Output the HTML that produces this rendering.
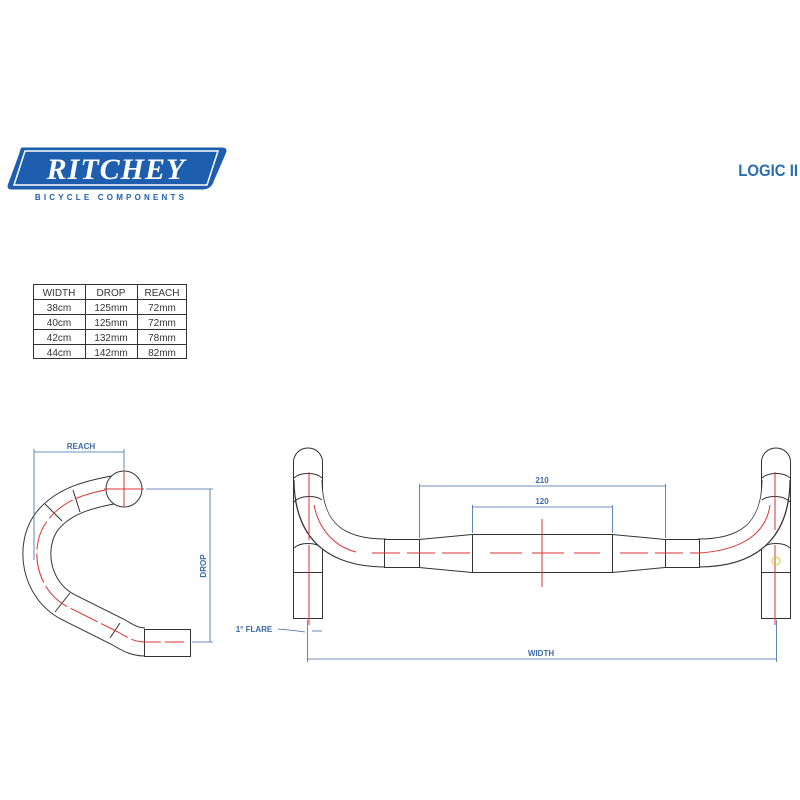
<!DOCTYPE html>
<html><head><meta charset="utf-8"><style>
html,body{margin:0;padding:0;background:#fff;}
svg{display:block;font-family:"Liberation Sans",sans-serif;}
</style></head><body>
<svg width="800" height="800" viewBox="0 0 800 800" xmlns="http://www.w3.org/2000/svg">
<!-- Logo -->
<path d="M22,148 L222,148 Q228,148 225,154 L212,184 Q209,189 203,189 L12,189 Q6,189 9,183 L20,153 Q21,148 22,148 Z" fill="#1d5fae" stroke="#1d5fae"/>
<path d="M25,151 L218,151 L207,185 L14,185 Z" fill="none" stroke="#fff" stroke-width="1.5"/>
<text x="116" y="179" text-anchor="middle" font-family="Liberation Serif,serif" font-style="italic" font-weight="bold" font-size="30" fill="#fff" letter-spacing="1">RITCHEY</text>
<text x="111" y="200" text-anchor="middle" font-weight="bold" font-size="8" fill="#1d5fae" letter-spacing="3.2">BICYCLE COMPONENTS</text>
<text x="798" y="176" text-anchor="end" font-weight="bold" font-size="17" fill="#2a6db0" transform="scale(0.88,1)" style="transform-origin:798px 176px">LOGIC II</text>

<!-- Table -->
<g stroke="#333" stroke-width="1" fill="none">
<rect x="33.5" y="284.5" width="153" height="74"/>
<line x1="33" y1="299.5" x2="187" y2="299.5"/>
<line x1="33" y1="314.5" x2="187" y2="314.5"/>
<line x1="33" y1="329.5" x2="187" y2="329.5"/>
<line x1="33" y1="344.5" x2="187" y2="344.5"/>
<line x1="85.5" y1="284" x2="85.5" y2="359"/>
<line x1="137.5" y1="284" x2="137.5" y2="359"/>
</g>
<g font-size="10" fill="#333" text-anchor="middle">
<text x="59" y="296">WIDTH</text><text x="111" y="296">DROP</text><text x="162" y="296">REACH</text>
<text x="59" y="311">38cm</text><text x="111" y="311">125mm</text><text x="162" y="311">72mm</text>
<text x="59" y="326">40cm</text><text x="111" y="326">125mm</text><text x="162" y="326">72mm</text>
<text x="59" y="341">42cm</text><text x="111" y="341">132mm</text><text x="162" y="341">78mm</text>
<text x="59" y="356">44cm</text><text x="111" y="356">142mm</text><text x="162" y="356">82mm</text>
</g>

<!-- Side view -->
<path d="M118,489 C90,494 65,500 48,520 C28,545 35,590 68,607 L118,632 C128,638 135,642 145,642" fill="none" stroke="#333" stroke-width="29"/>
<path d="M118,489 C90,494 65,500 48,520 C28,545 35,590 68,607 L118,632 C128,638 135,642 145,642" fill="none" stroke="#fff" stroke-width="27"/>
<circle cx="124" cy="489" r="18" fill="#fff" stroke="#333" stroke-width="1"/>
<rect x="144.5" y="629.5" width="46" height="27" fill="#fff" stroke="#333"/>
<g stroke="#333" stroke-width="1">
<line x1="73" y1="490" x2="80" y2="512"/><line x1="45" y1="504" x2="62" y2="521"/>
<line x1="55" y1="612" x2="70" y2="593"/><line x1="110" y1="638" x2="120" y2="623"/>
</g>
<path d="M105,490 C80,495 62,502 48,520 C28,545 35,590 68,607 L118,632 C128,638 135,642 145,642 L184,642" fill="none" stroke="#d33" stroke-width="1" stroke-dasharray="30,4"/>
<line x1="104" y1="489" x2="144" y2="489" stroke="#d33"/><line x1="124" y1="471" x2="124" y2="507" stroke="#d33"/>
<g stroke="#3b6aa8" stroke-width="0.8" fill="none">
<line x1="34" y1="452" x2="124" y2="452"/><line x1="34" y1="449" x2="34" y2="560"/><line x1="124" y1="449" x2="124" y2="470"/>
<line x1="146" y1="489" x2="213" y2="489"/><line x1="192" y1="642" x2="213" y2="642"/><line x1="210" y1="489" x2="210" y2="642"/>
</g>
<text x="81" y="449" text-anchor="middle" font-size="8" font-weight="bold" fill="#3b6aa8">REACH</text>
<text x="0" y="0" font-size="8" font-weight="bold" fill="#3b6aa8" transform="translate(206,566) rotate(-90)" text-anchor="middle">DROP</text>

<!-- Front view -->
<g fill="#fff" stroke="#333" stroke-width="1">
<path d="M293.5,618.5 L293.5,462 A14.5,14 0 0 1 322.5,462 L322.5,618.5 Z"/>
<path d="M790.5,618.5 L790.5,462 A14.5,14 0 0 0 761.5,462 L761.5,618.5 Z"/>
<line x1="293.5" y1="572.5" x2="322.5" y2="572.5"/><line x1="761.5" y1="572.5" x2="790.5" y2="572.5"/>
<path d="M294,548 C300,542 316,542 322,548" fill="none"/>
<path d="M790,548 C784,542 768,542 762,548" fill="none"/>
<path d="M308,480 C308,535 340,553 386,553" fill="none" stroke="#333" stroke-width="29"/>
<path d="M308,478 C308,535 340,553 386,553" fill="none" stroke="#fff" stroke-width="27"/>
<path d="M776,480 C776,535 744,553 698,553" fill="none" stroke="#333" stroke-width="29"/>
<path d="M776,478 C776,535 744,553 698,553" fill="none" stroke="#fff" stroke-width="27"/>
<path d="M294,478 C300,472 316,472 322,478 M294,502 C300,495 316,495 322,500" fill="none"/>
<path d="M790,478 C784,472 768,472 762,478 M790,502 C784,495 768,495 762,500" fill="none"/>
<path d="M384.5,539.5 L419,539.5 L472,534.5 L612,534.5 L665,539.5 L699.5,539.5 L699.5,567.5 L665,567.5 L612,572.5 L472,572.5 L419,567.5 L384.5,567.5 Z"/>
<line x1="419.5" y1="539" x2="419.5" y2="568"/>
<line x1="472.5" y1="534" x2="472.5" y2="573"/><line x1="612.5" y1="534" x2="612.5" y2="573"/>
<line x1="665.5" y1="539" x2="665.5" y2="568"/>
</g>
<g stroke="#d33" stroke-width="1" fill="none">
<line x1="309" y1="472" x2="309" y2="540" /><line x1="309" y1="545" x2="309" y2="625"/>
<path d="M314,505 C320,535 340,548 356,552" />
<line x1="372" y1="553" x2="470" y2="553" stroke-dasharray="28,7"/>
<line x1="490" y1="553" x2="600" y2="553" stroke-dasharray="32,10"/>
<line x1="620" y1="553" x2="700" y2="553" stroke-dasharray="28,7"/>
<path d="M700,553 C740,550 766,535 770,505"/>
<line x1="775" y1="472" x2="775" y2="530"/><line x1="775" y1="545" x2="775" y2="625"/>
<line x1="542" y1="519" x2="542" y2="587"/>
</g>
<circle cx="776" cy="561" r="4" fill="none" stroke="#cc3"/>
<g stroke="#3b6aa8" stroke-width="0.8" fill="none">
<line x1="419" y1="486" x2="665" y2="486"/><line x1="419.5" y1="484" x2="419.5" y2="538"/><line x1="665.5" y1="484" x2="665.5" y2="538"/>
<line x1="472" y1="507" x2="612" y2="507"/><line x1="472.5" y1="505" x2="472.5" y2="533"/><line x1="612.5" y1="505" x2="612.5" y2="533"/>
<line x1="307" y1="659" x2="776" y2="659"/><line x1="307.5" y1="620" x2="307.5" y2="662"/><line x1="776.5" y1="620" x2="776.5" y2="662"/>
<path d="M278,629 C290,630 298,631 305,632"/><line x1="312" y1="631" x2="322" y2="631"/>
</g>
<g font-size="8" font-weight="bold" fill="#3b6aa8" text-anchor="middle">
<text x="542" y="483">210</text><text x="542" y="504">120</text><text x="541" y="656">WIDTH</text>
<text x="254" y="632">1° FLARE</text>
</g>
</svg>
</body></html>
